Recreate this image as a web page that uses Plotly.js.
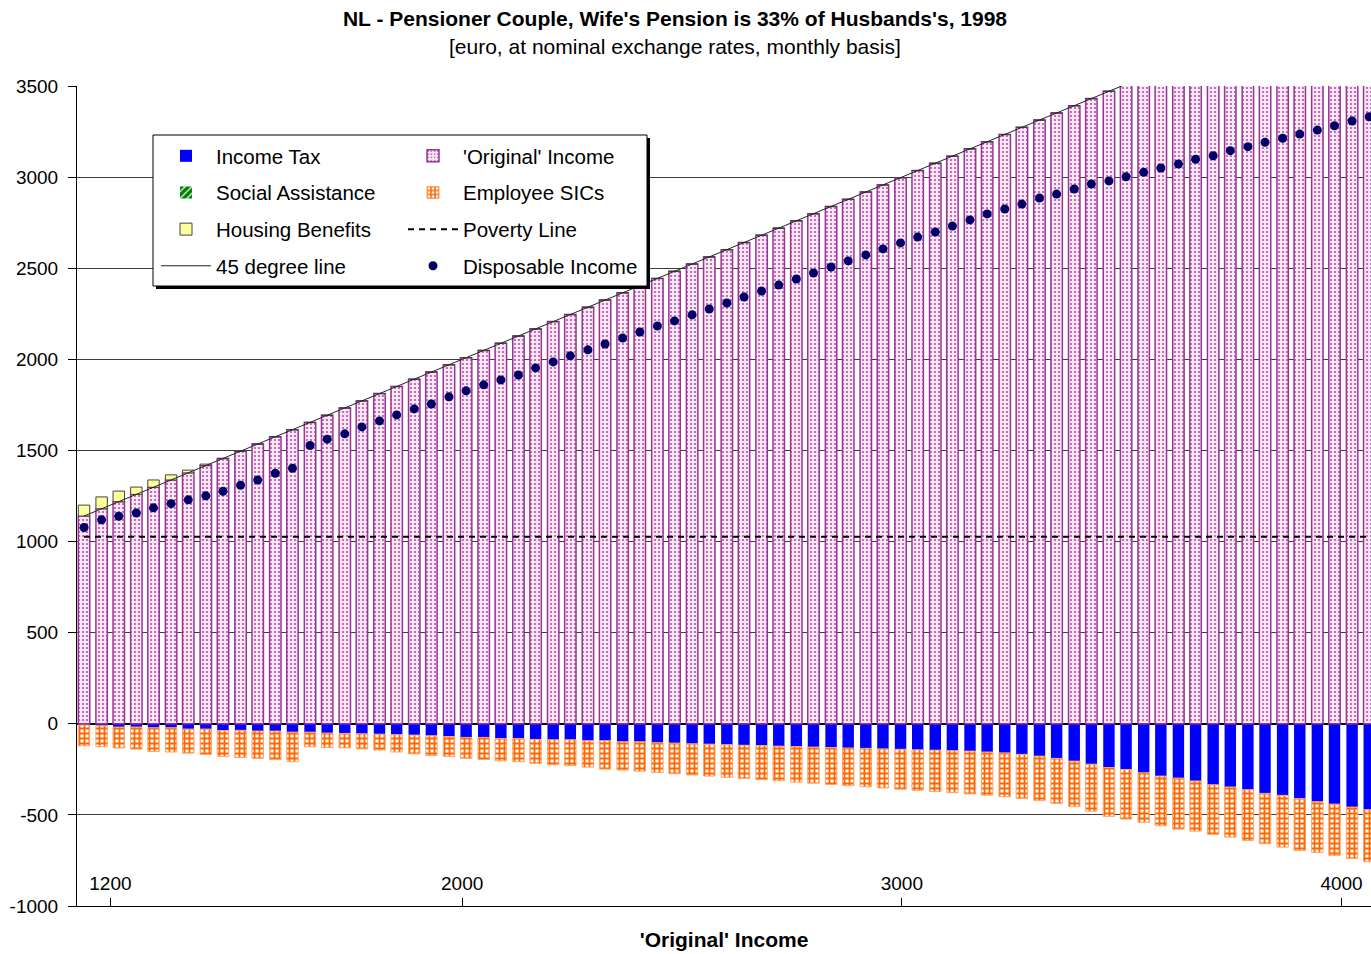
<!DOCTYPE html>
<html>
<head>
<meta charset="utf-8">
<script src="https://cdn.plot.ly/plotly-3.0.1.min.js"></script>
<style>
  html, body { margin: 0; padding: 0; background: #ffffff; }
  #chart { width: 1371px; height: 954px; }
</style>
</head>
<body>
<div id="chart"></div>
<script>
// 'Original' income (x position and bar height), euro per month
const originalIncome = [
  1140,1180,1219,1259,1298,1338,1377,1417,1456,1496,
  1535,1575,1614,1654,1693,1733,1772,1812,1851,1891,
  1930,1970,2009,2049,2088,2128,2167,2207,2246,2286,
  2325,2365,2404,2444,2483,2523,2562,2602,2641,2681,
  2720,2760,2799,2839,2878,2918,2957,2997,3036,3076,
  3115,3155,3194,3234,3273,3313,3352,3392,3431,3471,
  3510,3550,3589,3629,3668,3708,3747,3787,3826,3866,
  3905,3945,3984,4024,4063
];
// Income tax (paid, shown as negative)
const incomeTax = [
  7,11,18,18,22,22,29,29,37,36,
  40,40,46,46,51,53,55,57,60,62,
  66,70,75,75,81,81,86,88,88,93,
  93,99,99,104,106,110,112,115,118,120,
  123,125,128,130,133,135,138,140,143,145,
  148,150,155,160,168,178,190,205,222,240,
  251,269,287,298,314,335,347,362,382,393,
  411,428,441,457,472
];
// Employee social insurance contributions (paid, shown as negative)
const employeeSICs = [
  114,115,115,121,130,133,132,139,142,149,
  150,157,162,80,79,79,83,87,95,103,
  108,109,115,121,122,127,132,137,142,145,
  156,155,161,163,168,171,175,179,182,187,
  190,195,198,203,206,211,214,219,222,227,
  230,235,237,240,242,244,247,250,258,268,
  272,272,273,280,275,272,275,278,276,284,
  284,278,281,282,285
];
// Housing benefits (received)
const housingBenefits = [
  60,65,58,40,40,28,15,8,0,0,
  0,0,0,0,0,0,0,0,0,0,
  0,0,0,0,0,0,0,0,0,0,
  0,0,0,0,0,0,0,0,0,0,
  0,0,0,0,0,0,0,0,0,0,
  0,0,0,0,0,0,0,0,0,0,
  0,0,0,0,0,0,0,0,0,0,
  0,0,0,0,0
];
// Social assistance (none received in this range)
const socialAssistance = originalIncome.map(() => 0);
// Disposable income
const disposableIncome = [
  1077,1119,1139,1157,1185,1208,1229,1251,1276,1309,
  1338,1375,1402,1527,1562,1591,1629,1662,1695,1728,
  1755,1794,1827,1860,1887,1914,1953,1986,2019,2052,
  2084,2117,2150,2183,2211,2244,2276,2309,2342,2375,
  2408,2441,2474,2507,2540,2573,2606,2639,2671,2699,
  2732,2765,2798,2825,2852,2885,2907,2935,2962,2979,
  3002,3026,3050,3072,3098,3117,3145,3167,3191,3213,
  3236,3258,3282,3308,3331
];
const povertyLine = 1027;

const xTickVals = [1200, 2000, 3000, 4000];
const xTickText = ['1200', '2000', '3000', '4000'];
const yTickVals = [-1000, -500, 0, 500, 1000, 1500, 2000, 2500, 3000, 3500];
const yTickText = ['-1000', '-500', '0', '500', '1000', '1500', '2000', '2500', '3000', '3500'];

const FONT = 'Arial, "Liberation Sans", sans-serif';
const BW = 26;
const XRANGE = [1124, 4067];

const traces = [
  {
    type: 'bar', name: 'Income Tax', legend: 'legend', legendgroup: 'a1',
    x: originalIncome, y: incomeTax.map(v => -v), width: BW,
    marker: { color: '#0000ff', line: { width: 0 } }
  },
  {
    type: 'bar', name: "'Original' Income", legend: 'legend2', legendgroup: 'b1',
    x: originalIncome, y: originalIncome, width: BW,
    marker: {
      color: '#f5e0f1',
      line: { color: '#993399', width: 1.5 },
      pattern: { shape: '.', fgcolor: '#b456a6', bgcolor: '#f8e7f5', size: 4, solidity: 0.24 }
    }
  },
  {
    type: 'bar', name: 'Social Assistance', legend: 'legend', legendgroup: 'a2',
    x: originalIncome, y: socialAssistance, width: BW,
    marker: {
      color: '#008000', line: { width: 0 },
      pattern: { shape: '/', fgcolor: '#ffffff', bgcolor: '#008000', size: 6, solidity: 0.25 }
    }
  },
  {
    type: 'bar', name: 'Housing Benefits', legend: 'legend', legendgroup: 'a3',
    x: originalIncome, y: housingBenefits, width: BW,
    marker: { color: '#ffff99', line: { color: '#444444', width: 1 } }
  },
  {
    type: 'bar', name: 'Employee SICs', legend: 'legend2', legendgroup: 'b2',
    x: originalIncome, y: employeeSICs.map(v => -v), width: BW,
    marker: {
      color: '#ff6600', line: { color: '#ffa366', width: 1 },
      pattern: { shape: '+', fgcolor: '#ff6600', bgcolor: '#ffffff', size: 5, solidity: 0.6 }
    }
  },
  {
    type: 'scatter', mode: 'lines', name: '45 degree line', legend: 'legend', legendgroup: 'a4',
    x: originalIncome, y: originalIncome, xaxis: 'x2',
    line: { color: '#222222', width: 1 }
  },
  {
    type: 'scatter', mode: 'lines', name: 'Poverty Line', legend: 'legend2', legendgroup: 'b3',
    x: originalIncome, y: originalIncome.map(() => povertyLine),
    line: { color: '#000000', width: 2, dash: '6px,5px' }
  },
  {
    type: 'scatter', mode: 'markers', name: 'Disposable Income', legend: 'legend2', legendgroup: 'b4',
    x: originalIncome, y: disposableIncome,
    marker: { color: '#000066', size: 9, line: { width: 0 } }
  }
];

const L = 77, R = 1371, T = 86, B = 906;
const px2x = p => (p - L) / (R - L);
const px2y = p => (B - p) / (B - T);

const legendCommon = {
  bgcolor: 'rgba(0,0,0,0)', borderwidth: 0,
  font: { family: FONT, size: 20.5, color: '#000000' },
  itemwidth: 50, tracegroupgap: 7, traceorder: 'grouped',
  xanchor: 'left', yanchor: 'top', orientation: 'v', itemclick: false, itemdoubleclick: false
};

const layout = {
  width: 1371, height: 954,
  margin: { l: L, r: 1371 - R, t: T, b: 954 - B, pad: 0 },
  paper_bgcolor: '#ffffff', plot_bgcolor: '#ffffff',
  font: { family: FONT, size: 19, color: '#000000' },
  barmode: 'relative',
  showlegend: true,
  title: {
    text: "<b>NL - Pensioner Couple, Wife's Pension is 33% of Husbands's, 1998</b>",
    font: { family: FONT, size: 21, color: '#000000' },
    xref: 'container', x: 675 / 1371, xanchor: 'center',
    yref: 'container', y: 1 - 19 / 954, yanchor: 'middle'
  },
  annotations: [{
    text: '[euro, at nominal exchange rates, monthly basis]',
    xref: 'paper', yref: 'paper', x: px2x(675), y: px2y(47),
    xanchor: 'center', yanchor: 'middle', showarrow: false,
    font: { family: FONT, size: 21, color: '#000000' }
  }],
  xaxis: {
    type: 'linear', range: XRANGE,
    tickmode: 'array', tickvals: xTickVals, ticktext: xTickText, showticklabels: false,
    ticks: 'inside', ticklen: 8, tickwidth: 1, tickcolor: '#000000',
    showline: true, linecolor: '#000000', linewidth: 1,
    showgrid: false, zeroline: false,
    title: { text: "<b>'Original' Income</b>", font: { family: FONT, size: 21, color: '#000000' }, standoff: 26 },
    automargin: false, fixedrange: true
  },
  xaxis2: {
    type: 'linear', range: XRANGE, overlaying: 'x', anchor: 'free', position: px2y(870), side: 'bottom',
    tickmode: 'array', tickvals: xTickVals, ticktext: xTickText,
    ticks: '', showline: false, showgrid: false, zeroline: false,
    tickfont: { family: FONT, size: 19, color: '#000000' },
    automargin: false, fixedrange: true
  },
  yaxis: {
    range: [-1000, 3500],
    tickmode: 'array', tickvals: yTickVals, ticktext: yTickText,
    ticks: 'outside', ticklen: 8, tickwidth: 1, tickcolor: '#000000',
    ticklabelstandoff: 6,
    showline: true, linecolor: '#000000', linewidth: 1,
    showgrid: true, gridcolor: '#3a3a3a', gridwidth: 1,
    zeroline: true, zerolinecolor: '#000000', zerolinewidth: 1.5,
    tickfont: { family: FONT, size: 19, color: '#000000' },
    automargin: false, fixedrange: true
  },
  legend: Object.assign({}, legendCommon, { x: px2x(156), y: px2y(136) }),
  legend2: Object.assign({}, legendCommon, { x: px2x(403), y: px2y(136) }),
  shapes: [
    { type: 'rect', xref: 'paper', yref: 'paper', layer: 'above',
      x0: px2x(156), x1: px2x(650), y0: px2y(289), y1: px2y(138),
      fillcolor: '#000000', line: { width: 0 } },
    { type: 'rect', xref: 'paper', yref: 'paper', layer: 'above',
      x0: px2x(153), x1: px2x(647), y0: px2y(286), y1: px2y(135),
      fillcolor: '#ffffff', line: { color: '#000000', width: 1 } }
  ]
};

Plotly.newPlot('chart', traces, layout, { displayModeBar: false, staticPlot: true });
</script>
</body>
</html>
